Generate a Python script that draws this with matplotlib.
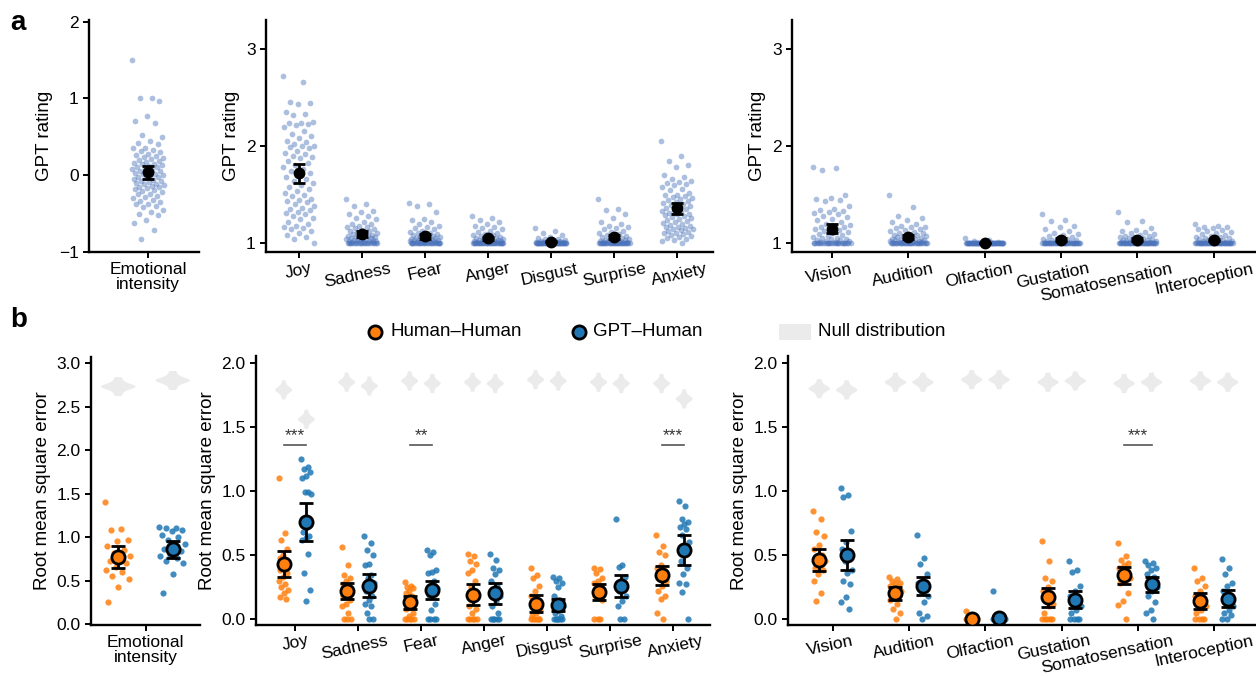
import numpy as np
import matplotlib.pyplot as plt
from matplotlib.patches import Rectangle
from matplotlib.transforms import ScaledTranslation

plt.rcParams["font.family"] = ["Liberation Sans", "DejaVu Sans"]

EMOTIONS = ["Joy", "Sadness", "Fear", "Anger", "Disgust", "Surprise", "Anxiety"]
SENSES = ["Vision", "Audition", "Olfaction", "Gustation", "Somatosensation", "Interoception"]

# ---- panel a: GPT ratings per word ----
GPT_INTENSITY = [1.50, 1.01, 1.00, 0.96, 0.77, 0.70, 0.68, 0.52, 0.50, 0.45, 0.42, 0.40, 0.36, 0.35,
                 0.33, 0.31, 0.30, 0.28, 0.26, 0.25, 0.24, 0.22, 0.21, 0.20, 0.18, 0.17, 0.16, 0.15,
                 0.14, 0.13, 0.12, 0.11, 0.10, 0.09, 0.08, 0.07, 0.06, 0.05, 0.04, 0.03, 0.02, 0.01,
                 0.00, -0.01, -0.02, -0.03, -0.04, -0.05, -0.06, -0.07, -0.08, -0.09, -0.10, -0.11,
                 -0.12, -0.13, -0.14, -0.15, -0.16, -0.17, -0.18, -0.19, -0.20, -0.22, -0.24, -0.25,
                 -0.27, -0.28, -0.30, -0.32, -0.34, -0.35, -0.37, -0.38, -0.40, -0.42, -0.45, -0.48,
                 -0.50, -0.52, -0.58, -0.62, -0.72, -0.83]

GPT_JOY = [2.72, 2.66, 2.45, 2.44, 2.43, 2.35, 2.33, 2.32, 2.25, 2.24, 2.24, 2.23, 2.22, 2.20, 2.15,
           2.12, 2.10, 2.08, 2.05, 2.04, 2.02, 2.00, 2.00, 1.99, 1.98, 1.95, 1.93, 1.92, 1.90, 1.89,
           1.88, 1.85, 1.82, 1.80, 1.78, 1.76, 1.74, 1.72, 1.70, 1.68, 1.66, 1.64, 1.62, 1.60, 1.58,
           1.56, 1.54, 1.52, 1.50, 1.48, 1.45, 1.44, 1.43, 1.42, 1.40, 1.38, 1.36, 1.35, 1.34, 1.32,
           1.31, 1.30, 1.28, 1.26, 1.25, 1.22, 1.20, 1.18, 1.16, 1.15, 1.14, 1.12, 1.10, 1.08, 1.06,
           1.04, 1.00]
GPT_SADNESS = [1.45, 1.40, 1.38, 1.33, 1.32, 1.30, 1.28, 1.26, 1.25, 1.22, 1.20, 1.20, 1.18, 1.17,
               1.16, 1.15, 1.14, 1.13, 1.12, 1.12, 1.11, 1.10, 1.10, 1.09, 1.08, 1.08, 1.07, 1.07,
               1.06, 1.06, 1.05, 1.05, 1.05, 1.04, 1.04, 1.04, 1.03, 1.03, 1.03, 1.02, 1.02, 1.02,
               1.02, 1.01, 1.01, 1.01] + [1.00] * 20
GPT_FEAR = [1.41, 1.40, 1.38, 1.32, 1.25, 1.24, 1.22, 1.20, 1.18, 1.16, 1.15, 1.14, 1.12, 1.11, 1.10,
            1.10, 1.09, 1.08, 1.08, 1.07, 1.07, 1.06, 1.06, 1.05, 1.05, 1.05, 1.04, 1.04, 1.04, 1.03,
            1.03, 1.03, 1.02, 1.02, 1.02, 1.02, 1.01, 1.01, 1.01] + [1.00] * 25
GPT_ANGER = [1.28, 1.26, 1.24, 1.22, 1.20, 1.18, 1.16, 1.15, 1.14, 1.12, 1.11, 1.10, 1.09, 1.08,
             1.08, 1.07, 1.06, 1.06, 1.05, 1.05, 1.04, 1.04, 1.04, 1.03, 1.03, 1.03, 1.02, 1.02,
             1.02, 1.02, 1.01, 1.01, 1.01, 1.01] + [1.00] * 30
GPT_DISGUST = [1.15, 1.12, 1.10, 1.08, 1.06, 1.05, 1.04, 1.04, 1.03, 1.03, 1.02, 1.02, 1.02, 1.01,
               1.01, 1.01, 1.01] + [1.00] * 45
GPT_SURPRISE = [1.45, 1.35, 1.34, 1.30, 1.26, 1.22, 1.20, 1.18, 1.16, 1.15, 1.14, 1.12, 1.11, 1.10,
                1.09, 1.08, 1.07, 1.06, 1.06, 1.05, 1.05, 1.04, 1.04, 1.03, 1.03, 1.03, 1.02, 1.02,
                1.02, 1.01, 1.01, 1.01] + [1.00] * 30
GPT_ANXIETY = [2.05, 1.90, 1.85, 1.80, 1.78, 1.70, 1.68, 1.66, 1.64, 1.63, 1.62, 1.61, 1.60, 1.58,
               1.56, 1.55, 1.52, 1.50, 1.50, 1.48, 1.47, 1.46, 1.45, 1.44, 1.43, 1.42, 1.41, 1.40,
               1.39, 1.38, 1.37, 1.36, 1.35, 1.34, 1.33, 1.32, 1.31, 1.30, 1.30, 1.29, 1.28, 1.27,
               1.26, 1.25, 1.24, 1.23, 1.22, 1.21, 1.20, 1.19, 1.18, 1.17, 1.16, 1.15, 1.14, 1.14,
               1.13, 1.12, 1.11, 1.10, 1.10, 1.09, 1.08, 1.07, 1.06, 1.05, 1.04, 1.03, 1.02, 1.00]

GPT_VISION = [1.78, 1.77, 1.75, 1.50, 1.46, 1.45, 1.44, 1.43, 1.38, 1.35, 1.34, 1.33, 1.32, 1.31,
              1.30, 1.28, 1.27, 1.25, 1.24, 1.22, 1.20, 1.19, 1.18, 1.17, 1.16, 1.15, 1.14, 1.13,
              1.12, 1.11, 1.10, 1.09, 1.08, 1.07, 1.06, 1.05, 1.05, 1.04, 1.04, 1.03, 1.03, 1.02,
              1.02, 1.01, 1.01] + [1.00] * 25
GPT_AUDITION = [1.49, 1.37, 1.28, 1.26, 1.24, 1.22, 1.20, 1.18, 1.17, 1.16, 1.15, 1.14, 1.13, 1.12,
                1.11, 1.10, 1.10, 1.09, 1.08, 1.08, 1.07, 1.07, 1.06, 1.06, 1.05, 1.05, 1.04, 1.04,
                1.04, 1.03, 1.03, 1.03, 1.02, 1.02, 1.02, 1.01, 1.01, 1.01] + [1.00] * 30
GPT_OLFACTION = [1.05, 1.03, 1.02, 1.01] + [1.00] * 60
GPT_GUSTATION = [1.30, 1.24, 1.23, 1.18, 1.16, 1.14, 1.12, 1.10, 1.09, 1.08, 1.07, 1.06, 1.05, 1.04,
                 1.04, 1.03, 1.03, 1.02, 1.02, 1.01, 1.01] + [1.00] * 40
GPT_SOMATO = [1.32, 1.23, 1.22, 1.15, 1.13, 1.12, 1.11, 1.10, 1.09, 1.08, 1.07, 1.07, 1.06, 1.06,
              1.05, 1.05, 1.04, 1.04, 1.03, 1.03, 1.03, 1.02, 1.02, 1.02, 1.01, 1.01, 1.01] + [1.00] * 40
GPT_INTERO = [1.20, 1.18, 1.17, 1.16, 1.15, 1.14, 1.13, 1.12, 1.11, 1.10, 1.09, 1.08, 1.07, 1.06,
              1.06, 1.05, 1.05, 1.04, 1.04, 1.03, 1.03, 1.02, 1.02, 1.02, 1.01, 1.01, 1.01] + [1.00] * 40

# ---- panel b: RMSE per participant, Human-Human (hh) and GPT-Human (gh) ----
HH_INTENSITY = [1.40, 1.09, 1.08, 0.97, 0.95, 0.90, 0.85, 0.82, 0.78, 0.74, 0.72, 0.70, 0.66, 0.62,
                0.60, 0.55, 0.52, 0.43, 0.25]
GH_INTENSITY = [1.12, 1.11, 1.10, 1.08, 1.07, 1.03, 1.00, 0.97, 0.92, 0.88, 0.86, 0.84, 0.80, 0.78,
                0.76, 0.72, 0.70, 0.58, 0.36]

HH_EMO = [
    [1.10, 0.67, 0.62, 0.55, 0.50, 0.48, 0.46, 0.45, 0.42, 0.40, 0.38, 0.36, 0.33, 0.30, 0.27, 0.25, 0.23, 0.20, 0.17, 0.16],  # Joy
    [0.56, 0.42, 0.34, 0.32, 0.30, 0.27, 0.25, 0.24, 0.22, 0.20, 0.18, 0.15, 0.12, 0.10, 0.05, 0.0, 0.0, 0.0],  # Sadness
    [0.29, 0.26, 0.25, 0.24, 0.22, 0.20, 0.18, 0.15, 0.12, 0.10, 0.08, 0.05, 0.02, 0.0, 0.0, 0.0, 0.0, 0.0],  # Fear
    [0.51, 0.49, 0.45, 0.43, 0.38, 0.36, 0.30, 0.25, 0.20, 0.15, 0.10, 0.08, 0.05, 0.0, 0.0, 0.0, 0.0, 0.0],  # Anger
    [0.40, 0.34, 0.32, 0.26, 0.22, 0.18, 0.15, 0.10, 0.07, 0.05, 0.02, 0.0, 0.0, 0.0, 0.0, 0.0, 0.0],  # Disgust
    [0.40, 0.39, 0.36, 0.32, 0.30, 0.28, 0.26, 0.24, 0.22, 0.20, 0.18, 0.15, 0.0, 0.0, 0.0],  # Surprise
    [0.66, 0.57, 0.52, 0.50, 0.42, 0.40, 0.38, 0.35, 0.30, 0.26, 0.22, 0.18, 0.16, 0.05, 0.0],  # Anxiety
]
GH_EMO = [
    [1.25, 1.19, 1.17, 1.15, 1.12, 1.10, 0.99, 0.99, 0.98, 0.72, 0.68, 0.65, 0.63, 0.62, 0.51, 0.36, 0.23, 0.14],
    [0.65, 0.59, 0.54, 0.50, 0.43, 0.42, 0.34, 0.32, 0.28, 0.25, 0.22, 0.18, 0.15, 0.12, 0.10, 0.05, 0.0, 0.0],
    [0.54, 0.52, 0.50, 0.38, 0.37, 0.36, 0.30, 0.26, 0.24, 0.22, 0.19, 0.12, 0.07, 0.0, 0.0, 0.0, 0.0],
    [0.51, 0.46, 0.40, 0.38, 0.35, 0.30, 0.26, 0.22, 0.18, 0.14, 0.10, 0.05, 0.0, 0.0, 0.0, 0.0, 0.0],
    [0.33, 0.32, 0.30, 0.28, 0.25, 0.18, 0.15, 0.12, 0.10, 0.07, 0.05, 0.02, 0.0, 0.0, 0.0, 0.0, 0.0, 0.0],
    [0.78, 0.42, 0.41, 0.33, 0.30, 0.27, 0.25, 0.22, 0.18, 0.14, 0.10, 0.0, 0.0],
    [0.92, 0.88, 0.78, 0.76, 0.74, 0.72, 0.70, 0.66, 0.60, 0.52, 0.45, 0.40, 0.35, 0.28, 0.27, 0.21, 0.0],
]
HH_SENSE = [
    [0.84, 0.78, 0.68, 0.65, 0.58, 0.55, 0.50, 0.48, 0.45, 0.42, 0.40, 0.38, 0.35, 0.30, 0.20, 0.14],  # Vision
    [0.33, 0.31, 0.30, 0.28, 0.27, 0.26, 0.25, 0.23, 0.22, 0.21, 0.20, 0.19, 0.17, 0.15, 0.12, 0.08, 0.05, 0.0],  # Audition
    [0.06, 0.03, 0.02, 0.01, 0.0, 0.0, 0.0, 0.0, 0.0, 0.0, 0.0, 0.0, 0.0, 0.0, 0.0],  # Olfaction
    [0.61, 0.45, 0.32, 0.30, 0.25, 0.22, 0.18, 0.15, 0.12, 0.10, 0.05, 0.0, 0.0, 0.0, 0.0, 0.0],  # Gustation
    [0.59, 0.49, 0.46, 0.44, 0.42, 0.40, 0.38, 0.35, 0.32, 0.30, 0.28, 0.20, 0.14, 0.11, 0.0],  # Somatosensation
    [0.40, 0.32, 0.30, 0.26, 0.22, 0.18, 0.15, 0.12, 0.10, 0.07, 0.05, 0.0, 0.0, 0.0, 0.0],  # Interoception
]
GH_SENSE = [
    [1.02, 0.97, 0.95, 0.69, 0.60, 0.55, 0.50, 0.45, 0.38, 0.36, 0.30, 0.27, 0.17, 0.13, 0.08],
    [0.66, 0.48, 0.43, 0.35, 0.30, 0.28, 0.25, 0.22, 0.18, 0.13, 0.05, 0.02, 0.0],
    [0.22, 0.03, 0.02, 0.01, 0.0, 0.0, 0.0, 0.0, 0.0, 0.0, 0.0, 0.0, 0.0, 0.0],
    [0.45, 0.38, 0.37, 0.26, 0.22, 0.18, 0.15, 0.12, 0.10, 0.07, 0.05, 0.0, 0.0, 0.0, 0.0],
    [0.45, 0.44, 0.42, 0.40, 0.38, 0.35, 0.33, 0.30, 0.25, 0.22, 0.18, 0.13, 0.07, 0.05, 0.0],
    [0.47, 0.40, 0.35, 0.28, 0.26, 0.22, 0.18, 0.15, 0.10, 0.07, 0.05, 0.03, 0.0, 0.0],
]

# group means and 95% CI half-widths
HH_MEAN_INT, HH_CI_INT = [0.77], [0.125]
GH_MEAN_INT, GH_CI_INT = [0.86], [0.095]
HH_MEAN_EMO = [0.43, 0.22, 0.13, 0.19, 0.12, 0.21, 0.34]
HH_CI_EMO = [0.10, 0.065, 0.05, 0.08, 0.065, 0.06, 0.075]
GH_MEAN_EMO = [0.76, 0.26, 0.23, 0.20, 0.11, 0.26, 0.54]
GH_CI_EMO = [0.15, 0.09, 0.07, 0.08, 0.05, 0.085, 0.115]
HH_MEAN_SENSE = [0.46, 0.20, 0.00, 0.17, 0.34, 0.14]
HH_CI_SENSE = [0.085, 0.05, 0.005, 0.075, 0.065, 0.06]
GH_MEAN_SENSE = [0.50, 0.26, 0.01, 0.15, 0.27, 0.16]
GH_CI_SENSE = [0.12, 0.07, 0.015, 0.065, 0.06, 0.065]

# null distribution centres
NULL_HH_INT, NULL_GH_INT = [2.73], [2.80]
NULL_HH_EMO = [1.79, 1.85, 1.86, 1.85, 1.87, 1.85, 1.84]
NULL_GH_EMO = [1.56, 1.82, 1.84, 1.84, 1.86, 1.84, 1.72]
NULL_HH_SENSE = [1.80, 1.85, 1.87, 1.85, 1.84, 1.86]
NULL_GH_SENSE = [1.79, 1.85, 1.87, 1.86, 1.85, 1.85]
NULL_SPREAD = [-0.075, -0.045, -0.025, -0.012, -0.005, 0.0, 0.0, 0.005, 0.012, 0.025, 0.045, 0.075]

SIG_EMO = ["***", "", "**", "", "", "", "***"]
SIG_SENSE = ["", "", "", "", "***", ""]

ORANGE = "#ff7f0e"
BLUE = "#1f77b4"
DOT_BLUE = "#4a72ba"
NULL_GREY = "#ebebeb"
SIG_Y = 1.36
ROT = 12
# small horizontal nudges (px) of the rotated labels, as in the original
EMO_NUDGE = [0, -4, 0, 0, -2, 0, 2]
SENSE_NUDGE = [-3, -5, -6, -8, -31, -10]

W, H = 1256, 676
fig = plt.figure(figsize=(W / 100, H / 100), dpi=100)


def px_axes(x0, y0, x1, y1):
    ax = fig.add_axes([x0 / W, 1 - y1 / H, (x1 - x0) / W, (y1 - y0) / H])
    for s in ["top", "right"]:
        ax.spines[s].set_visible(False)
    for s in ["left", "bottom"]:
        ax.spines[s].set_linewidth(1.7)
    ax.tick_params(direction="out", length=4, width=1.4, labelsize=12.5, colors="black")
    return ax


def jitter(n, width):
    return ((np.arange(n) * 0.6180339887) % 1.0 - 0.5) * 2 * width


def xlabels(ax, labels, rot, nudge, drop):
    ax.set_xticks(range(len(labels)))
    if rot == 0:
        ax.set_xticklabels(labels, ha="center", linespacing=1.0)
        return
    ax.set_xticklabels([])
    for i, lab in enumerate(labels):
        off = ScaledTranslation(nudge[i] / 100, -drop / 100, fig.dpi_scale_trans)
        ax.text(i, 0, lab, transform=ax.get_xaxis_transform() + off, rotation=rot,
                ha="center", va="top", fontsize=12.5, clip_on=False)


def draw_ratings(ax, groups, jit):
    for i, vals in enumerate(groups):
        vals = np.asarray(vals, dtype=float)
        ax.scatter(i + jitter(len(vals), jit), vals, s=17, color=DOT_BLUE, alpha=0.45,
                   linewidths=0, zorder=2)
        m = vals.mean()
        ci = 1.96 * vals.std(ddof=1) / np.sqrt(len(vals))
        ax.errorbar(i, m, yerr=ci, fmt="o", color="black", ms=7.5, capsize=4,
                    elinewidth=2, capthick=2, zorder=4)
    ax.set_ylabel("GPT rating", fontsize=13.5)


def draw_rmse(ax, hh, gh, hh_m, hh_ci, gh_m, gh_ci, null_hh, null_gh, sig,
              dodge, jit, vwidth, vscale):
    for i in range(len(hh)):
        sets = [(hh[i], hh_m[i], hh_ci[i], null_hh[i], -dodge, ORANGE),
                (gh[i], gh_m[i], gh_ci[i], null_gh[i], dodge, BLUE)]
        for vals, m, ci, nc, off, col in sets:
            x = i + off
            vp = ax.violinplot([[nc + d * vscale for d in NULL_SPREAD]], positions=[x],
                               widths=vwidth, showextrema=False, bw_method=0.45)
            for b in vp["bodies"]:
                b.set_facecolor(NULL_GREY)
                b.set_edgecolor("none")
                b.set_alpha(1)
                b.set_zorder(1)
            ax.scatter(x + jitter(len(vals), jit), vals, s=20, color=col, alpha=0.85,
                       linewidths=0, zorder=2)
            ax.errorbar(x, m, yerr=ci, fmt="none", ecolor="black", elinewidth=2,
                        capsize=5, capthick=2, zorder=3)
            ax.plot(x, m, "o", ms=9.5, mfc=col, mec="black", mew=2, zorder=4)
        if sig[i]:
            ax.plot([i - dodge, i + dodge], [SIG_Y, SIG_Y], color="#555555", lw=1.2, zorder=2)
            ax.text(i, SIG_Y + 0.012, sig[i], ha="center", va="bottom", fontsize=12.5,
                    color="#333333")
    ax.set_ylabel("Root mean square error", fontsize=13.5)


# ---- row a ----
ax = px_axes(89, 20, 199, 252)
draw_ratings(ax, [GPT_INTENSITY], 0.16)
xlabels(ax, ["Emotional\nintensity"], 0, None, 0)
ax.set_xlim(-0.59, 0.51)
ax.set_ylim(-1.0, 2.02)
ax.set_yticks([-1, 0, 1, 2])

ax = px_axes(266, 20, 713, 252)
draw_ratings(ax, [GPT_JOY, GPT_SADNESS, GPT_FEAR, GPT_ANGER, GPT_DISGUST, GPT_SURPRISE,
                  GPT_ANXIETY], 0.25)
xlabels(ax, EMOTIONS, ROT, EMO_NUDGE, 9)
ax.set_xlim(-0.52, 6.57)
ax.set_ylim(0.907, 3.30)
ax.set_yticks([1, 2, 3])

ax = px_axes(792, 20, 1255, 252)
draw_ratings(ax, [GPT_VISION, GPT_AUDITION, GPT_OLFACTION, GPT_GUSTATION, GPT_SOMATO,
                  GPT_INTERO], 0.25)
xlabels(ax, SENSES, ROT, SENSE_NUDGE, 9)
ax.set_xlim(-0.52, 5.54)
ax.set_ylim(0.907, 3.30)
ax.set_yticks([1, 2, 3])

# ---- row b ----
ax = px_axes(91, 357, 200, 625)
draw_rmse(ax, [HH_INTENSITY], [GH_INTENSITY], HH_MEAN_INT, HH_CI_INT, GH_MEAN_INT, GH_CI_INT,
          NULL_HH_INT, NULL_GH_INT, [""], 0.3, 0.15, 0.38, 1.45)
xlabels(ax, ["Emotional\nintensity"], 0, None, 0)
ax.set_xlim(-0.6, 0.6)
ax.set_ylim(-0.01, 3.07)
ax.set_yticks(np.arange(0, 3.01, 0.5))
ax.set_yticklabels([f"{v:.1f}" for v in np.arange(0, 3.01, 0.5)])

ax = px_axes(256, 356, 710, 625)
draw_rmse(ax, HH_EMO, GH_EMO, HH_MEAN_EMO, HH_CI_EMO, GH_MEAN_EMO, GH_CI_EMO,
          NULL_HH_EMO, NULL_GH_EMO, SIG_EMO, 0.18, 0.08, 0.27, 1.0)
xlabels(ax, EMOTIONS, ROT, EMO_NUDGE, 8)
ax.set_xlim(-0.62, 6.59)
ax.set_ylim(-0.047, 2.055)
ax.set_yticks(np.arange(0, 2.01, 0.5))
ax.set_yticklabels([f"{v:.1f}" for v in np.arange(0, 2.01, 0.5)])

ax = px_axes(788, 356, 1256, 625)
draw_rmse(ax, HH_SENSE, GH_SENSE, HH_MEAN_SENSE, HH_CI_SENSE, GH_MEAN_SENSE, GH_CI_SENSE,
          NULL_HH_SENSE, NULL_GH_SENSE, SIG_SENSE, 0.18, 0.08, 0.28, 1.0)
xlabels(ax, SENSES, ROT, SENSE_NUDGE, 8)
ax.set_xlim(-0.59, 5.55)
ax.set_ylim(-0.047, 2.055)
ax.set_yticks(np.arange(0, 2.01, 0.5))
ax.set_yticklabels([f"{v:.1f}" for v in np.arange(0, 2.01, 0.5)])

# ---- legend and panel letters (figure pixel space) ----
lg = fig.add_axes([0, 0, 1, 1], zorder=-1)
lg.set_xlim(0, W)
lg.set_ylim(H, 0)
lg.axis("off")
lg.plot(375, 332, "o", ms=9.5, mfc=ORANGE, mec="black", mew=2)
lg.text(391, 332, "Human\u2013Human", fontsize=13.5, va="center")
lg.plot(579, 332, "o", ms=9.5, mfc=BLUE, mec="black", mew=2)
lg.text(593, 332, "GPT\u2013Human", fontsize=13.5, va="center")
lg.add_patch(Rectangle((779, 324), 32, 16, facecolor=NULL_GREY, edgecolor="none"))
lg.text(818, 332, "Null distribution", fontsize=13.5, va="center")
lg.text(10, 30, "a", fontsize=20, fontweight="bold", va="baseline")
lg.text(10, 327, "b", fontsize=20, fontweight="bold", va="baseline")

fig.savefig("out.png", dpi=100)
